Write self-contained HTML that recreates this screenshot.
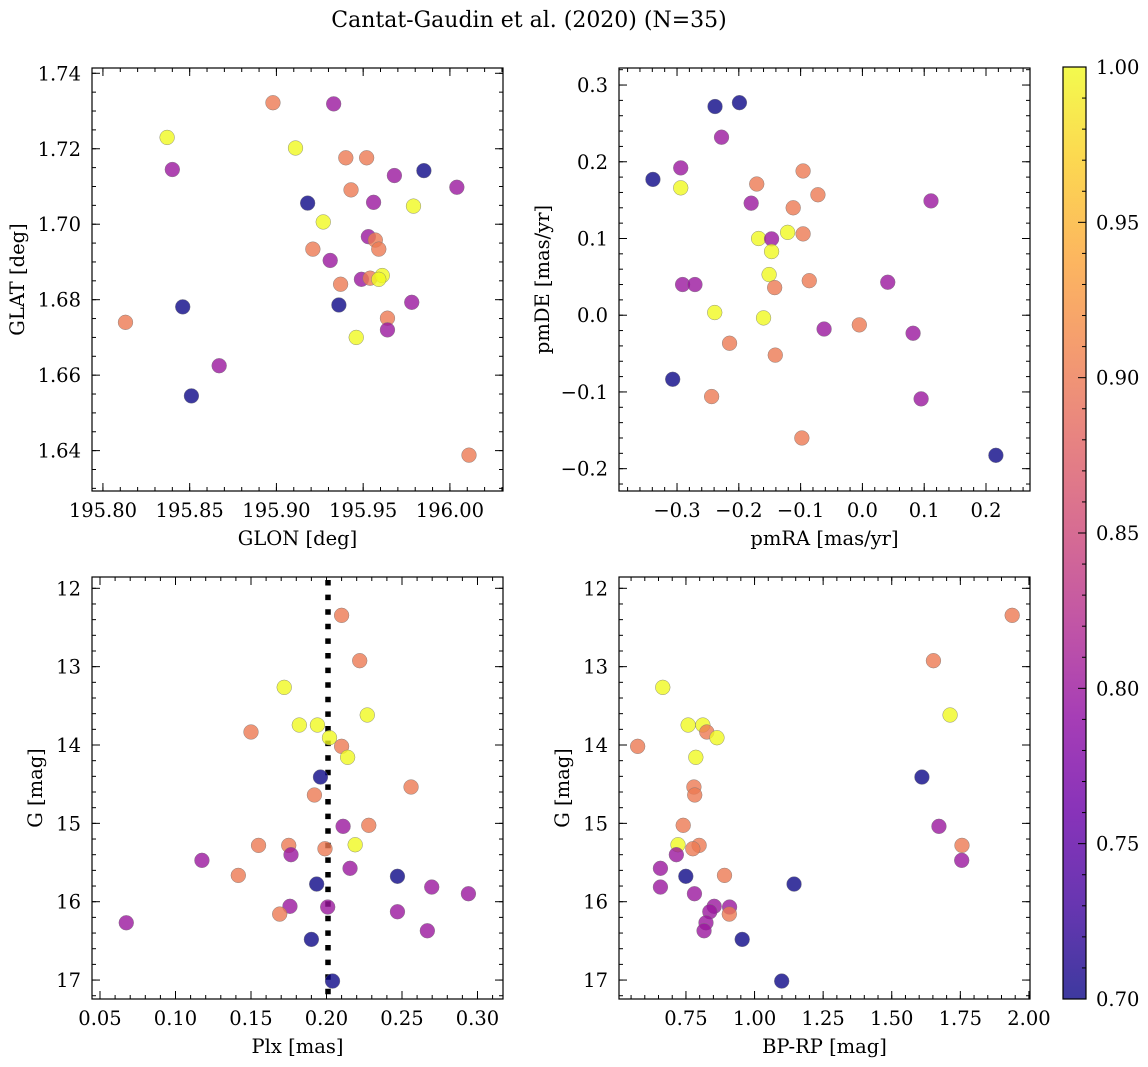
<!DOCTYPE html>
<html><head><meta charset="utf-8"><style>
html,body{margin:0;padding:0;background:#fff;}
svg{display:block;font-family:"DejaVu Serif","Liberation Serif",serif;}
</style></head><body>
<svg id="fig" width="1148" height="1067" viewBox="0 0 1148 1067" xmlns="http://www.w3.org/2000/svg">
<defs>
<linearGradient id="plasmaGrad" x1="0" y1="1" x2="0" y2="0">
<stop offset="0" stop-color="#0d0887"/><stop offset="0.1" stop-color="#41049d"/><stop offset="0.2" stop-color="#6a00a8"/><stop offset="0.3" stop-color="#8f0da4"/><stop offset="0.4" stop-color="#b12a90"/><stop offset="0.5" stop-color="#cc4778"/><stop offset="0.6" stop-color="#e16462"/><stop offset="0.7" stop-color="#f2844b"/><stop offset="0.8" stop-color="#fca636"/><stop offset="0.9" stop-color="#fcce25"/><stop offset="1" stop-color="#f0f921"/>
</linearGradient>
</defs>
<text x="529" y="27" text-anchor="middle" font-size="22">Cantat-Gaudin et al. (2020) (N=35)</text>
<g id="layer"></g>
</svg>
<script>
// ---- Panel 1: GLON vs GLAT ----
const glonX = [195.898,195.933,195.837,195.911,195.940,195.952,195.840,195.985,195.968,196.004,195.943,195.918,195.956,195.979,195.927,195.953,195.957,195.959,195.921,195.931,195.949,195.954,195.961,195.959,195.937,195.846,195.936,195.978,195.813,195.964,195.964,195.946,195.867,195.851,196.011];
const glatY = [1.7322,1.7319,1.7230,1.7202,1.7176,1.7176,1.7145,1.7142,1.7129,1.7098,1.7091,1.7056,1.7058,1.7048,1.7006,1.6967,1.6958,1.6934,1.6934,1.6904,1.6854,1.6857,1.6864,1.6854,1.6841,1.6781,1.6786,1.6793,1.6740,1.6751,1.6720,1.6700,1.6625,1.6545,1.6388];
const prob1 = [0.9,0.8,1.0,1.0,0.9,0.9,0.8,0.7,0.8,0.8,0.9,0.7,0.8,1.0,1.0,0.8,0.9,0.9,0.9,0.8,0.8,0.9,1.0,1.0,0.9,0.7,0.7,0.8,0.9,0.9,0.8,1.0,0.8,0.7,0.9];
// ---- Panel 2: pmRA vs pmDE ----
const pmraX = [-0.2385,-0.199,-0.228,-0.294,-0.339,-0.294,-0.096,-0.171,-0.072,0.111,-0.180,-0.112,-0.121,-0.096,-0.168,-0.147,-0.147,-0.151,-0.086,0.041,-0.291,-0.271,-0.142,-0.239,-0.160,-0.005,-0.062,0.082,-0.215,-0.141,-0.307,-0.244,0.095,-0.098,0.216];
const pmdeY = [0.272,0.277,0.232,0.192,0.177,0.166,0.188,0.171,0.157,0.149,0.146,0.140,0.108,0.106,0.100,0.0995,0.083,0.053,0.045,0.043,0.040,0.040,0.036,0.0035,-0.0035,-0.0126,-0.018,-0.0235,-0.0365,-0.052,-0.0835,-0.106,-0.109,-0.160,-0.1826];
const prob2 = [0.7,0.7,0.8,0.8,0.7,1.0,0.9,0.9,0.9,0.8,0.8,0.9,1.0,0.9,1.0,0.8,1.0,1.0,0.9,0.8,0.8,0.8,0.9,1.0,1.0,0.9,0.8,0.8,0.9,0.9,0.7,0.9,0.8,0.9,0.7];
// ---- Panels 3 & 4: G magnitude shared ----
const gMag = [12.345,12.924,13.264,13.617,13.745,13.745,13.834,13.907,14.017,14.157,14.409,14.536,14.638,15.038,15.025,15.281,15.281,15.273,15.324,15.40,15.472,15.574,15.664,15.676,15.775,15.813,15.898,16.059,16.068,16.158,16.128,16.269,16.371,16.481,17.013];
const plxX = [0.210,0.222,0.172,0.227,0.182,0.194,0.150,0.202,0.210,0.214,0.196,0.256,0.192,0.211,0.228,0.155,0.175,0.219,0.199,0.1765,0.1175,0.2156,0.1416,0.247,0.1935,0.2697,0.294,0.1758,0.2008,0.169,0.247,0.0674,0.2668,0.190,0.204];
const bprpX = [1.939,1.652,0.6655,1.7126,0.758,0.8116,0.826,0.863,0.574,0.786,1.610,0.779,0.782,1.672,0.740,1.756,0.798,0.721,0.775,0.715,1.755,0.657,0.8905,0.7495,1.144,0.657,0.781,0.853,0.909,0.908,0.837,0.823,0.816,0.955,1.099];
const prob34 = [0.9,0.9,1.0,1.0,1.0,1.0,0.9,1.0,0.9,1.0,0.7,0.9,0.9,0.8,0.9,0.9,0.9,1.0,0.9,0.8,0.8,0.8,0.9,0.7,0.7,0.8,0.8,0.8,0.8,0.9,0.8,0.8,0.8,0.7,0.7];
const meanPlx = [0.201];
// ---- tick label arrays ----
const ticks1x = [195.80,195.85,195.90,195.95,196.00];
const ticks1y = [1.64,1.66,1.68,1.70,1.72,1.74];
const ticks2x = [-0.3,-0.2,-0.1,0.0,0.1,0.2];
const ticks2y = [-0.2,-0.1,0.0,0.1,0.2,0.3];
const ticks3x = [0.05,0.10,0.15,0.20,0.25,0.30];
const ticksG = [12,13,14,15,16,17];
const ticks4x = [0.75,1.00,1.25,1.50,1.75,2.00];
const ticksCb = [0.70,0.75,0.80,0.85,0.90,0.95,1.00];

const NS="http://www.w3.org/2000/svg";
const layer=document.getElementById('layer');
function mk(tag,attrs,parent){const e=document.createElementNS(NS,tag);for(const k in attrs)e.setAttribute(k,attrs[k]);(parent||layer).appendChild(e);return e;}
function fmt(v,d){let s=v.toFixed(d);if(v<0&&Math.abs(v)>1e-9)s='\u2212'+s.slice(1);if(Math.abs(v)<1e-9)s=(0).toFixed(d);return s;}
const stops=[[0,13,8,135],[0.1,65,4,157],[0.2,106,0,168],[0.3,143,13,164],[0.4,177,42,144],[0.5,204,71,120],[0.6,225,100,98],[0.7,242,132,75],[0.8,252,166,54],[0.9,252,206,37],[1,240,249,33]];
function plasma(t){t=Math.max(0,Math.min(1,t));for(let i=0;i<stops.length-1;i++){const a=stops[i],b=stops[i+1];if(t<=b[0]){const f=(t-a[0])/(b[0]-a[0]);return 'rgb('+[1,2,3].map(j=>Math.round(a[j]+f*(b[j]-a[j]))).join(',')+')';}}return 'rgb(240,249,33)';}
function lin(d0,d1,p0,p1){return v=>p0+(v-d0)/(d1-d0)*(p1-p0);}

function panel(o){
  const g=mk('g',{});
  
  
  const sx=lin(o.xd[0],o.xd[1],o.L,o.R), sy=lin(o.yd[0],o.yd[1],o.B,o.T);
  const tg=mk('g',{stroke:'#000','stroke-width':1},g);
  function xt(v,len){const x=sx(v);if(x<o.L-0.5||x>o.R+0.5)return;mk('line',{x1:x,x2:x,y1:o.B,y2:o.B-len},tg);mk('line',{x1:x,x2:x,y1:o.T,y2:o.T+len},tg);}
  function yt(v,len){const y=sy(v);if(y<o.T-0.5||y>o.B+0.5)return;mk('line',{y1:y,y2:y,x1:o.L,x2:o.L+len},tg);mk('line',{y1:y,y2:y,x1:o.R,x2:o.R-len},tg);}
  for(let v=Math.ceil(o.xd[0]/o.xm)*o.xm;v<=o.xd[1];v+=o.xm)xt(v,4);
  for(let v=Math.ceil(Math.min(o.yd[0],o.yd[1])/o.ym)*o.ym;v<=Math.max(o.yd[0],o.yd[1]);v+=o.ym)yt(v,4);
  o.xt.forEach(v=>{xt(v,8);const t=mk('text',{x:sx(v),y:o.B+26,'text-anchor':'middle','font-size':19.5},g);t.textContent=fmt(v,o.xdp);
    
    });
  o.yt.forEach(v=>{yt(v,8);const t=mk('text',{x:o.L-11,y:sy(v)+7,'text-anchor':'end','font-size':19.5},g);t.textContent=fmt(v,o.ydp);
    
    });
  if(o.vline){o.vline.forEach(v=>{const l=mk('line',{x1:sx(v),x2:sx(v),y1:o.T+3,y2:o.B,stroke:'#000','stroke-width':5.5,'stroke-dasharray':'5.5 9.1'},g);
    
    });}
  const pg=mk('g',{},g);
  o.x.forEach((xv,i)=>{const c=mk('circle',{cx:sx(xv),cy:sy(o.y[i]),r:7.4,fill:plasma((o.p[i]-0.7)/0.3),'fill-opacity':0.8,stroke:'#777','stroke-opacity':0.8,'stroke-width':0.5},pg);
    
    });
  const fr=mk('rect',{x:o.L,y:o.T,width:o.R-o.L,height:o.B-o.T,fill:'none',stroke:'#000','stroke-width':1.2},g);
  
  
  const xl=mk('text',{x:(o.L+o.R)/2,y:o.B+54,'text-anchor':'middle','font-size':19.5},g);xl.textContent=o.xlab;
  
  
  const yl=mk('text',{x:0,y:0,'text-anchor':'middle','font-size':19.5,transform:'translate('+o.ylx+','+((o.T+o.B)/2)+') rotate(-90)'},g);yl.textContent=o.ylab;
  
  
}
panel({name:'panel-glon-glat',L:92,R:503,T:68,B:491,xd:[195.7937,196.0306],yd:[1.6293,1.7414],xm:0.01,ym:0.005,xt:ticks1x,yt:ticks1y,xdp:2,ydp:2,x:glonX,y:glatY,p:prob1,xlab:'GLON [deg]',ylab:'GLAT [deg]',ylx:24});
panel({name:'panel-pmra-pmde',L:619,R:1030,T:68,B:491,xd:[-0.3939,0.2712],yd:[-0.2291,0.3222],xm:0.02,ym:0.02,xt:ticks2x,yt:ticks2y,xdp:1,ydp:1,x:pmraX,y:pmdeY,p:prob2,xlab:'pmRA [mas/yr]',ylab:'pmDE [mas/yr]',ylx:549});
panel({name:'panel-plx-g',L:92,R:503,T:577,B:999,xd:[0.0447,0.3169],yd:[17.2418,11.8557],xm:0.01,ym:0.2,xt:ticks3x,yt:ticksG,xdp:2,ydp:0,x:plxX,y:gMag,p:prob34,xlab:'Plx [mas]',ylab:'G [mag]',ylx:42,vline:meanPlx});
panel({name:'panel-bprp-g',L:619,R:1030,T:577,B:999,xd:[0.5060,2.0039],yd:[17.2418,11.8557],xm:0.05,ym:0.2,xt:ticks4x,yt:ticksG,xdp:2,ydp:0,x:bprpX,y:gMag,p:prob34,xlab:'BP-RP [mag]',ylab:'G [mag]',ylx:569});

// colorbar
(function(){
  const g=mk('g',{});
  
  
  const T=67,B=999,L=1063,R=1086;
  mk('rect',{x:L,y:T,width:R-L,height:B-T,fill:'url(#plasmaGrad)','fill-opacity':0.8},g);
  const s=lin(0.7,1.0,B,T);
  for(let k=0;k<=30;k++){const v=0.7+k*0.01,y=s(v);const major=k%5===0;mk('line',{x1:R,x2:R-(major?8:4),y1:y,y2:y,stroke:'#000','stroke-width':1},g);}
  ticksCb.forEach(v=>{const t=mk('text',{x:R+10,y:s(v)+7,'font-size':19.5},g);t.textContent=v.toFixed(2);
    
    });
  mk('rect',{x:L,y:T,width:R-L,height:B-T,fill:'none',stroke:'#000','stroke-width':1.2},g);
})();
</script>
</body></html>
